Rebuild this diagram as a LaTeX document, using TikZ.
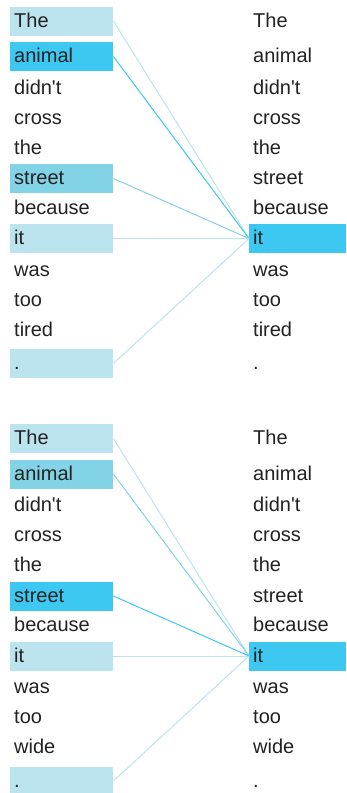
\documentclass[tikz,border=0pt]{standalone}
\usepackage{fontspec}
\setmainfont{Liberation Sans}
\definecolor{paleC}{HTML}{BCE4EE}
\definecolor{midC}{HTML}{82D3E5}
\definecolor{strongC}{HTML}{3DC8F2}
\definecolor{textC}{HTML}{222222}
\begin{document}
\begin{tikzpicture}[x=1pt,y=-1pt,
  word/.style={font=\fontsize{20pt}{22pt}\selectfont, text=textC, anchor=west,
    text height=16pt, text depth=4pt, inner xsep=4pt, inner ysep=0pt,
    minimum height=29pt, align=left},
  lword/.style={word, text width=95pt},
  rword/.style={word, text width=89pt},
  wpale/.style={fill=paleC},
  wmid/.style={fill=midC},
  wstrong/.style={fill=strongC},
  wnone/.style={},
  link/.style={line width=1pt},
  lpale/.style={link, draw=paleC},
  lmid/.style={link, draw=midC},
  lstrong/.style={link, draw=strongC}]
\useasboundingbox (0,0) rectangle (346,793);
\def\rows{{21,56.5,88,118,148,178.5,208,238.5,270,300,330,363.5}}
% top panel
\foreach \w/\s [count=\i] in {The/wpale,animal/wstrong,didn\textquotesingle t/wnone,cross/wnone,the/wnone,street/wmid,because/wnone,it/wpale,was/wnone,too/wnone,tired/wnone,./wpale}{
  \pgfmathsetmacro\yy{\rows[\i-1]}
  \node[lword,\s] (A\i) at (10,\yy) {\w};
}
\foreach \w/\s [count=\i] in {The/wnone,animal/wnone,didn\textquotesingle t/wnone,cross/wnone,the/wnone,street/wnone,because/wnone,it/wstrong,was/wnone,too/wnone,tired/wnone,./wnone}{
  \pgfmathsetmacro\yy{\rows[\i-1]}
  \node[rword,\s] (B\i) at (249,\yy) {\w};
}
% bottom panel
\foreach \w/\s [count=\i] in {The/wpale,animal/wmid,didn\textquotesingle t/wnone,cross/wnone,the/wnone,street/wstrong,because/wnone,it/wpale,was/wnone,too/wnone,wide/wnone,./wpale}{
  \pgfmathsetmacro\yy{\rows[\i-1]+417.5}
  \node[lword,\s] (C\i) at (10,\yy) {\w};
}
\foreach \w/\s [count=\i] in {The/wnone,animal/wnone,didn\textquotesingle t/wnone,cross/wnone,the/wnone,street/wnone,because/wnone,it/wstrong,was/wnone,too/wnone,wide/wnone,./wnone}{
  \pgfmathsetmacro\yy{\rows[\i-1]+417.5}
  \node[rword,\s] (D\i) at (249,\yy) {\w};
}
% connectors top
\draw[lpale] (A1.east) -- (B8.west);
\draw[lstrong] (A2.east) -- (B8.west);
\draw[lmid] (A6.east) -- (B8.west);
\draw[lpale] (A8.east) -- (B8.west);
\draw[lpale] (A12.east) -- (B8.west);
% connectors bottom
\draw[lpale] (C1.east) -- (D8.west);
\draw[lmid] (C2.east) -- (D8.west);
\draw[lstrong] (C6.east) -- (D8.west);
\draw[lpale] (C8.east) -- (D8.west);
\draw[lpale] (C12.east) -- (D8.west);
\end{tikzpicture}
\end{document}
